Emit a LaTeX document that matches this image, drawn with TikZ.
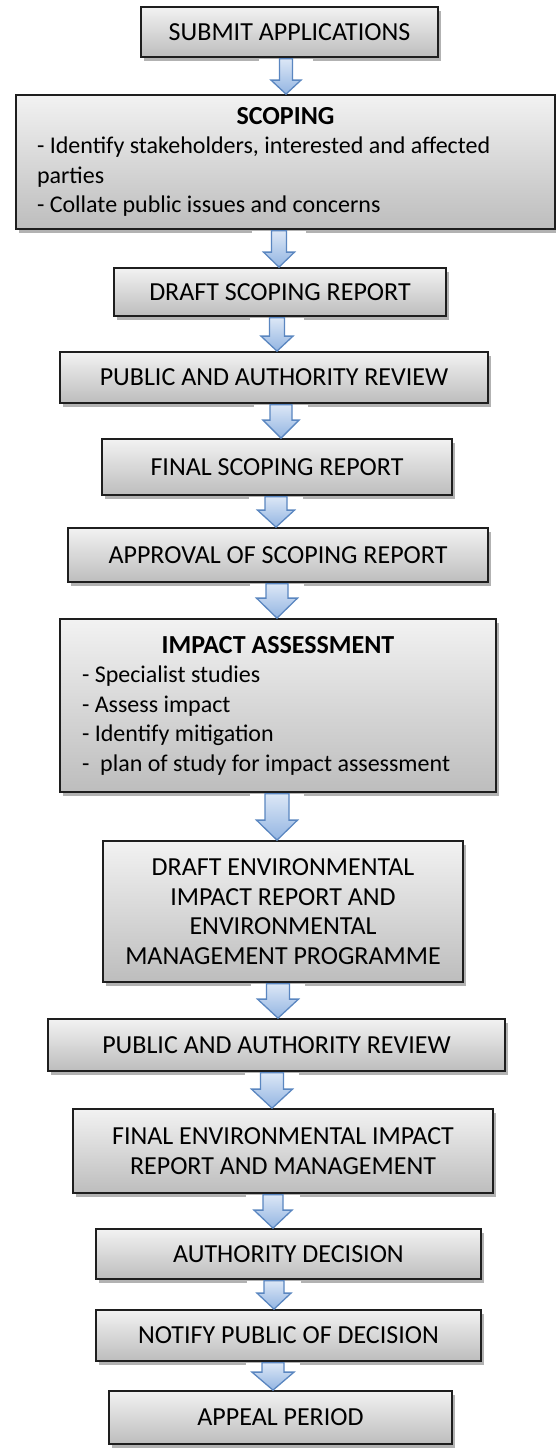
\documentclass[tikz,border=0pt]{standalone}
\usepackage{fontspec}
\setmainfont{Carlito}
\usetikzlibrary{calc,shadows}
\definecolor{boxtop}{HTML}{F2F2F2}
\definecolor{boxbot}{HTML}{BDBDBD}
\definecolor{boxline}{HTML}{1E1E1E}
\definecolor{arrowtop}{HTML}{DCE7F6}
\definecolor{arrowbot}{HTML}{93B5E2}
\definecolor{arrowline}{HTML}{5A86C0}
\newcommand{\bodyfont}{\fontsize{24}{29.5}\selectfont}
\tikzset{
  stepbox/.style={draw=boxline, line width=1.8pt, top color=boxtop, bottom color=boxbot,
    drop shadow={shadow xshift=2.5pt, shadow yshift=-3.5pt, opacity=0.3, fill=black},
    font=\fontsize{26}{29.5}\selectfont, align=center, inner sep=0pt, anchor=center},
  listbox/.style={stepbox, align=left, font=\bodyfont},
  flowarrowstyle/.style={draw=arrowline, line width=1.3pt, line join=miter, top color=arrowtop, bottom color=arrowbot}
}
% #1 source, #2 target, #3 x, #4 half shaft width, #5 half head width, #6 head length
\newcommand{\flowarrow}[6]{%
  \fill[white] let \p1=(#1.south), \p2=(#2.north) in (#3pt-27pt,\y1-1.5pt) rectangle (#3pt+27pt,\y2+1.5pt);
  \draw[flowarrowstyle] let \p1=(#1.south), \p2=(#2.north) in
    (#3pt-#4pt,\y1-0.9pt) -- (#3pt+#4pt,\y1-0.9pt) -- (#3pt+#4pt,\y2+#6pt) -- (#3pt+#5pt,\y2+#6pt)
    -- (#3pt,\y2) -- (#3pt-#5pt,\y2+#6pt) -- (#3pt-#4pt,\y2+#6pt) -- cycle;
}
\begin{document}
\begin{tikzpicture}[x=1pt,y=-1pt]
\fill[white] (0,0) rectangle (556,1449);
\useasboundingbox (0,0) rectangle (556,1449);

\node[stepbox, minimum width=297pt, minimum height=50pt] (sub) at (289.5,32) {SUBMIT APPLICATIONS};

\node[listbox, minimum width=539pt, minimum height=134pt] (scop) at (285.5,162)
  {\makebox[497pt][c]{\fontsize{26}{29.5}\selectfont\bfseries SCOPING}\\
   - Identify stakeholders, interested and affected\\
   parties\\
   - Collate public issues and concerns};

\node[stepbox, minimum width=332pt, minimum height=48pt] (dsr) at (280,292) {DRAFT SCOPING REPORT};
\node[stepbox, minimum width=428pt, minimum height=51pt] (par1) at (274,377.5) {PUBLIC AND AUTHORITY REVIEW};
\node[stepbox, minimum width=350pt, minimum height=56pt] (fsr) at (277,467) {FINAL SCOPING REPORT};
\node[stepbox, minimum width=420pt, minimum height=54pt] (app) at (278,555) {APPROVAL OF SCOPING REPORT};

\node[listbox, minimum width=436pt, minimum height=173pt] (imp) at (278,705.5)
  {\makebox[392pt][c]{\fontsize{26}{29.5}\selectfont\bfseries IMPACT ASSESSMENT}\\
   - Specialist studies\\
   - Assess impact\\
   - Identify mitigation\\
   -\ \ plan of study for impact assessment};

\node[stepbox, minimum width=360pt, minimum height=141pt] (deir) at (283,911.5)
  {DRAFT ENVIRONMENTAL\\IMPACT REPORT AND\\ENVIRONMENTAL\\MANAGEMENT PROGRAMME};
\node[stepbox, minimum width=457pt, minimum height=52pt] (par2) at (276.5,1045) {PUBLIC AND AUTHORITY REVIEW};
\node[stepbox, minimum width=420pt, minimum height=84pt] (feir) at (283,1151)
  {FINAL ENVIRONMENTAL IMPACT\\REPORT AND MANAGEMENT};
\node[stepbox, minimum width=385pt, minimum height=50pt] (auth) at (288.5,1254) {AUTHORITY DECISION};
\node[stepbox, minimum width=385pt, minimum height=51pt] (notif) at (288.5,1335.5) {NOTIFY PUBLIC OF DECISION};
\node[stepbox, minimum width=343pt, minimum height=53pt] (appeal) at (280.5,1417.5) {APPEAL PERIOD};

\flowarrow{sub}{scop}{286}{6.5}{15}{14}
\flowarrow{scop}{dsr}{279}{7.5}{15.5}{15}
\flowarrow{dsr}{par1}{277}{7.5}{16}{15}
\flowarrow{par1}{fsr}{281}{11}{18}{18}
\flowarrow{fsr}{app}{276}{11}{18.5}{17}
\flowarrow{app}{imp}{277}{11}{20.5}{20}
\flowarrow{imp}{deir}{277}{12}{20.5}{20}
\flowarrow{deir}{par2}{278}{11.5}{20.5}{19}
\flowarrow{par2}{feir}{272}{11.5}{20.5}{19}
\flowarrow{feir}{auth}{273}{10}{19}{18}
\flowarrow{auth}{notif}{274}{10}{17}{16}
\flowarrow{notif}{appeal}{273}{11}{21}{18}
\end{tikzpicture}
\end{document}
